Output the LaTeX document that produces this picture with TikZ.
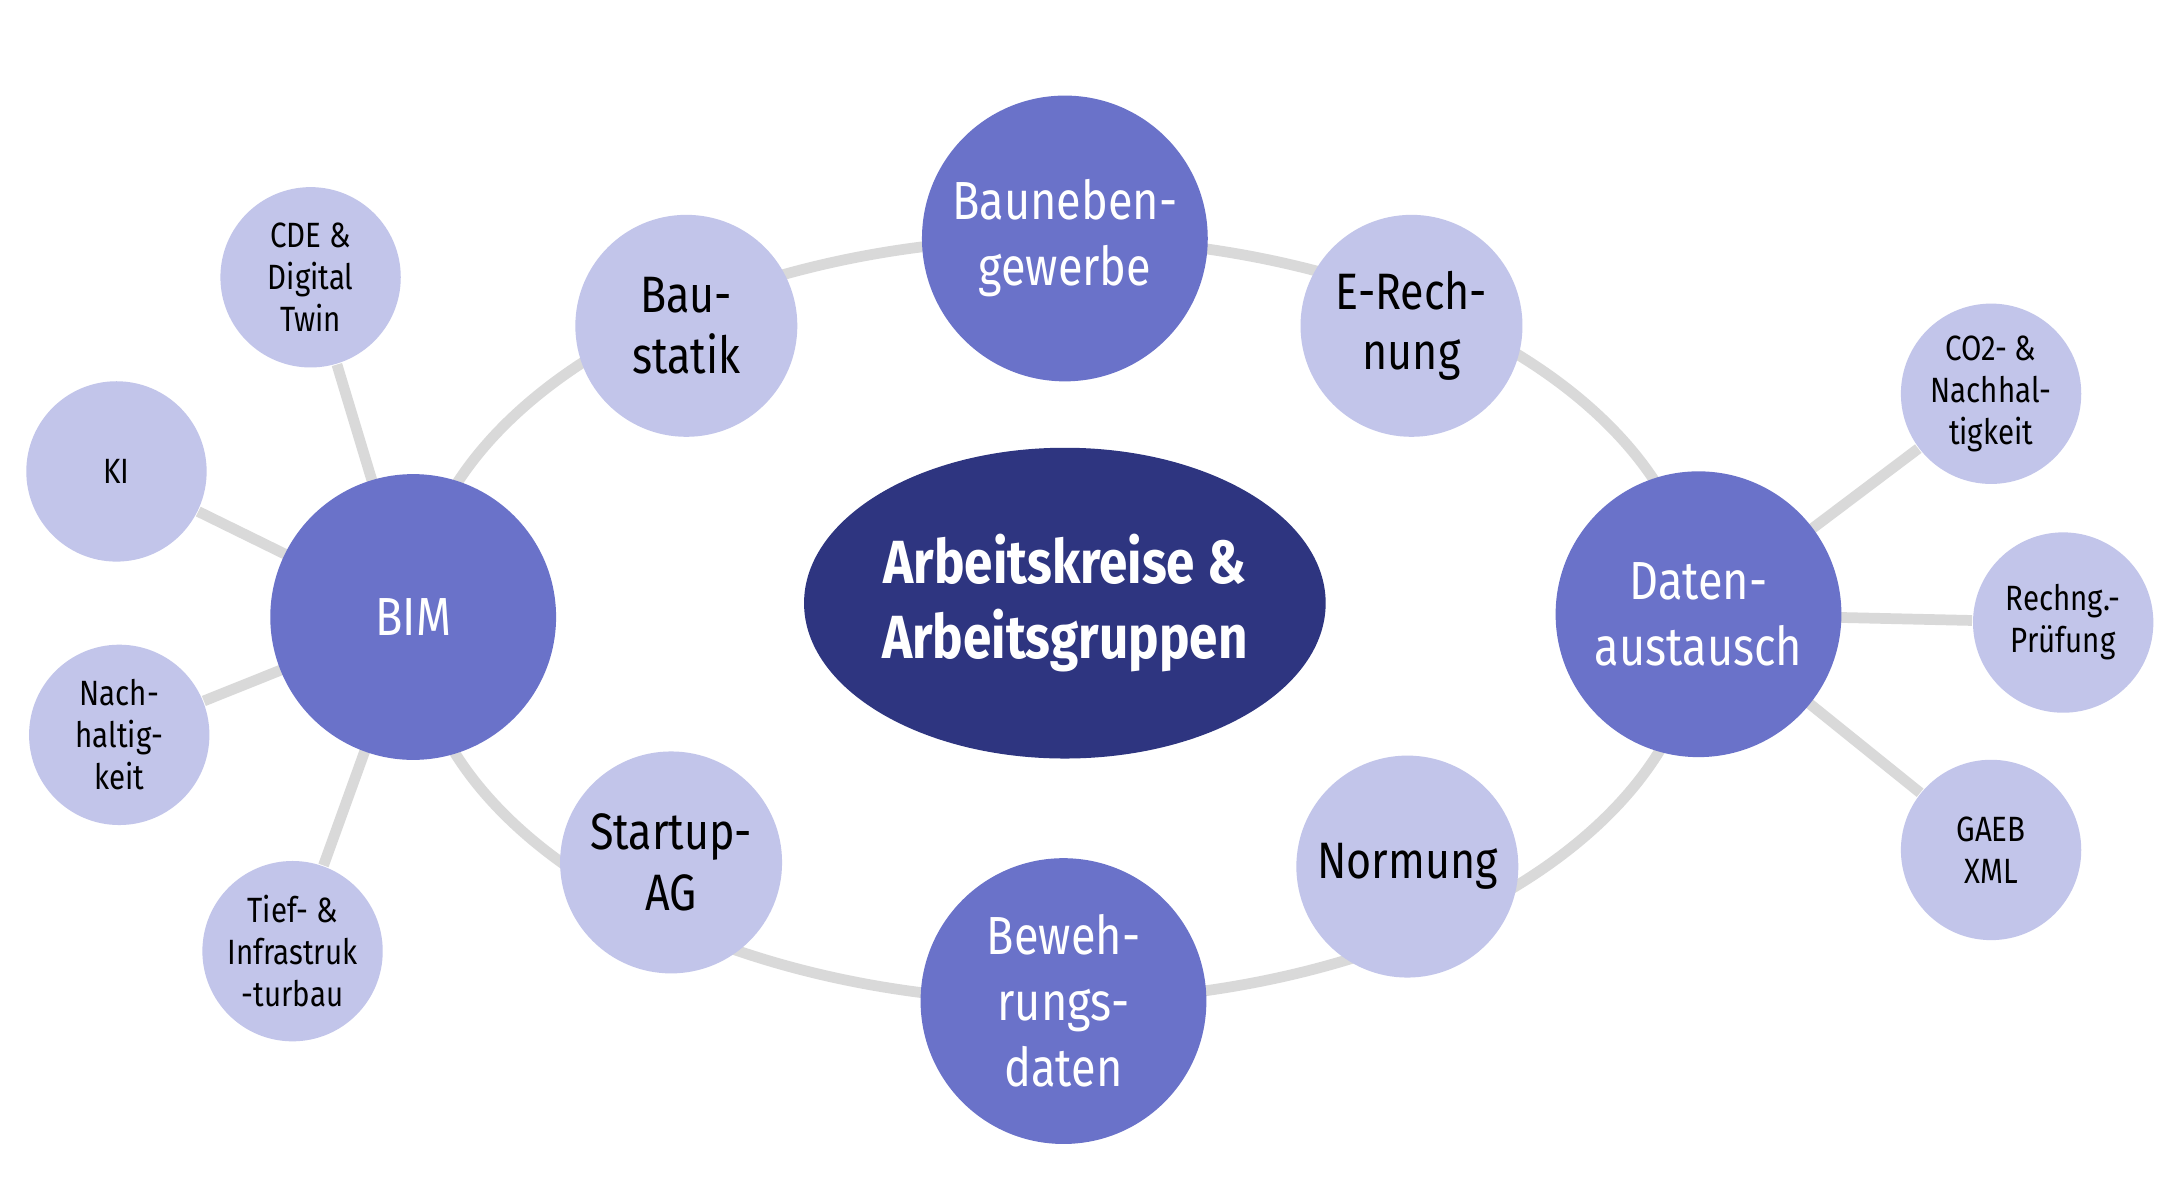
\documentclass[tikz,border=0pt]{standalone}
\usepackage{fontspec}
\setmainfont[FakeStretch=0.84]{Fira Sans}
\usetikzlibrary{shapes.geometric}
\definecolor{navy}{HTML}{2E3580}
\definecolor{mid}{HTML}{6A72C9}
\definecolor{lite}{HTML}{C2C5EA}
\definecolor{ring}{HTML}{D9D9D9}
\begin{document}
\begin{tikzpicture}[x=0.01cm,y=-0.01cm,
  big/.style={circle,fill=mid,minimum size=2.06cm,inner sep=0pt,text=white,align=center,font=\fontsize{11}{13.5}\selectfont},
  med/.style={circle,fill=lite,minimum size=1.6cm,inner sep=0pt,text=black,align=center,font=\fontsize{10.5}{12.5}\selectfont},
  sml/.style={circle,fill=lite,minimum size=1.3cm,inner sep=0pt,text=black,align=center,font=\fontsize{7.2}{8.6}\selectfont},
  link/.style={draw=ring,line width=2.2pt}]
\fill[white] (0,0) rectangle (1560,858);
\useasboundingbox (0,0) rectangle (1560,858);
\draw[link] (762,447) ellipse [x radius=463, y radius=275];
\node[ellipse,fill=navy,minimum width=3.76cm,minimum height=2.24cm,inner sep=0pt,text=white,align=center,font=\bfseries\fontsize{12.5}{15.5}\selectfont] (c) at (768,435) {Arbeitskreise \&\\Arbeitsgruppen};
\coordinate (bimc) at (298,445);
\coordinate (datc) at (1225,443);
\node[sml] (cde) at (224,200) {CDE \&\\Digital\\Twin};
\node[sml] (ki) at (84,340) {KI};
\node[sml] (nh) at (86,530) {Nach-\\haltig-\\keit};
\node[sml] (tief) at (211,686) {Tief- \&\\Infrastruk\\-turbau};
\node[sml] (co2) at (1436,284) {CO2- \&\\Nachhal-\\tigkeit};
\node[sml] (rp) at (1488,449) {Rechng.-\\Prüfung};
\node[sml] (gaeb) at (1436,613) {GAEB\\XML};
\foreach \n in {cde,ki,nh,tief} \draw[link] (bimc) -- (\n);
\foreach \n in {co2,rp,gaeb} \draw[link] (datc) -- (\n);
\node[big] (bim) at (bimc) {BIM};
\node[big] (dat) at (datc) {Daten-\\austausch};
\node[big] (bn) at (768,172) {Bauneben-\\gewerbe};
\node[big] (bw) at (767,722) {Beweh-\\rungs-\\daten};
\node[med] (er) at (1018,235) {E-Rech-\\nung};
\node[med] (no) at (1015,625) {Normung};
\node[med] (su) at (484,622) {Startup-\\AG};
\node[med] (bs) at (495,235) {Bau-\\statik};
\end{tikzpicture}
\end{document}
